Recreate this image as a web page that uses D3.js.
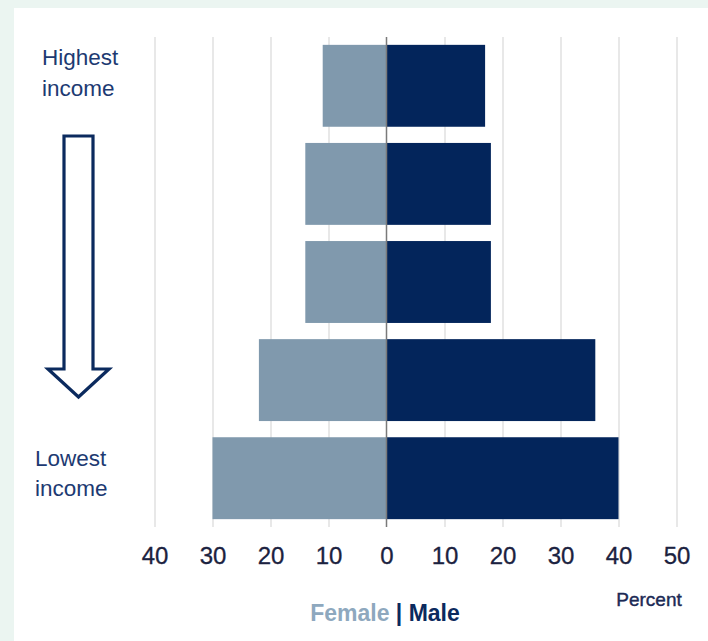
<!DOCTYPE html>
<html>
<head>
<meta charset="utf-8">
<script src="https://cdn.jsdelivr.net/npm/d3@7/dist/d3.min.js"></script>
<style>
  html, body { margin: 0; padding: 0; background: #ebf5f1; }
  svg { display: block; }
</style>
</head>
<body>
<svg id="chart" width="708" height="641"></svg>
<script>
// Income groups, highest first
const groups = ["Q5", "Q4", "Q3", "Q2", "Q1"];
// Share of each group, percent
const female = [11, 14, 14, 22, 30];
const male = [17, 18, 18, 36, 40];
// Axis ticks (signed: negative side is female)
const tickValues = [-40, -30, -20, -10, 0, 10, 20, 30, 40, 50];

const svg = d3.select("#chart");
const font = "'Liberation Sans', Arial, sans-serif";

// white panel
svg.append("rect").attr("x", 14).attr("y", 8).attr("width", 694).attr("height", 633).attr("fill", "#ffffff");

const x = d3.scaleLinear().domain([-40, 50]).range([154.5, 676.5]);
const y = d3.scaleBand().domain(groups).range([37, 527]).paddingInner(0.165).paddingOuter(0.08);

// vertical gridlines
svg.append("g")
  .attr("transform", "translate(0,527)")
  .call(d3.axisBottom(x).tickValues(tickValues.filter(v => v !== 0)).tickSize(-490).tickFormat(""))
  .call(g => g.select(".domain").remove())
  .call(g => g.selectAll("line").attr("stroke", "#d9d9d9").attr("stroke-width", 1.2));

// bars
svg.append("g").selectAll("rect").data(groups).join("rect")
  .attr("x", (d, i) => x(-female[i]))
  .attr("y", d => y(d))
  .attr("width", (d, i) => x(0) - x(-female[i]))
  .attr("height", y.bandwidth())
  .attr("fill", "#8099ad");

svg.append("g").selectAll("rect").data(groups).join("rect")
  .attr("x", x(0))
  .attr("y", d => y(d))
  .attr("width", (d, i) => x(male[i]) - x(0))
  .attr("height", y.bandwidth())
  .attr("fill", "#03255b");

// zero line
svg.append("line")
  .attr("x1", x(0)).attr("x2", x(0)).attr("y1", 37).attr("y2", 527)
  .attr("stroke", "#7a7a7a").attr("stroke-width", 1.5);

// tick labels
svg.append("g")
  .attr("transform", "translate(0,527)")
  .call(d3.axisBottom(x).tickValues(tickValues).tickSize(0).tickPadding(37).tickFormat(d => Math.abs(d)))
  .call(g => g.select(".domain").remove())
  .call(g => g.selectAll("text")
    .attr("font-family", font).attr("font-size", 24).attr("fill", "#1b2240")
    .attr("stroke", "#1b2240").attr("stroke-width", 0.3)
    .attr("dy", 0).attr("y", 37));

// legend
const legend = svg.append("text")
  .attr("x", 385).attr("y", 621).attr("text-anchor", "middle")
  .attr("font-family", font).attr("font-size", 23);
legend.append("tspan").attr("fill", "#8ea8be").attr("font-weight", "bold").text("Female");
legend.append("tspan").attr("fill", "#0b2a5e").attr("font-weight", "bold").text(" | Male");

svg.append("text")
  .attr("x", 649).attr("y", 606).attr("text-anchor", "middle")
  .attr("font-family", font).attr("font-size", 19)
  .attr("fill", "#1b2a55").attr("stroke", "#1b2a55").attr("stroke-width", 0.4).text("Percent");

// income labels
const labelColor = "#1d3a72";
[["Highest", 65], ["income", 96]].forEach(([t, yy]) =>
  svg.append("text").attr("x", 42).attr("y", yy)
    .attr("font-family", font).attr("font-size", 22.5).attr("fill", labelColor).text(t));
[["Lowest", 466], ["income", 496]].forEach(([t, yy]) =>
  svg.append("text").attr("x", 35).attr("y", yy)
    .attr("font-family", font).attr("font-size", 22.5).attr("fill", labelColor).text(t));

// downward arrow
const arrow = d3.path();
arrow.moveTo(64, 136);
arrow.lineTo(93, 136);
arrow.lineTo(93, 369);
arrow.lineTo(109, 369);
arrow.lineTo(78.5, 397);
arrow.lineTo(48, 369);
arrow.lineTo(64, 369);
arrow.closePath();
svg.append("path").attr("d", arrow.toString())
  .attr("fill", "#ffffff").attr("stroke", "#0b2a5e").attr("stroke-width", 3.2).attr("stroke-linejoin", "miter");
</script>
</body>
</html>
